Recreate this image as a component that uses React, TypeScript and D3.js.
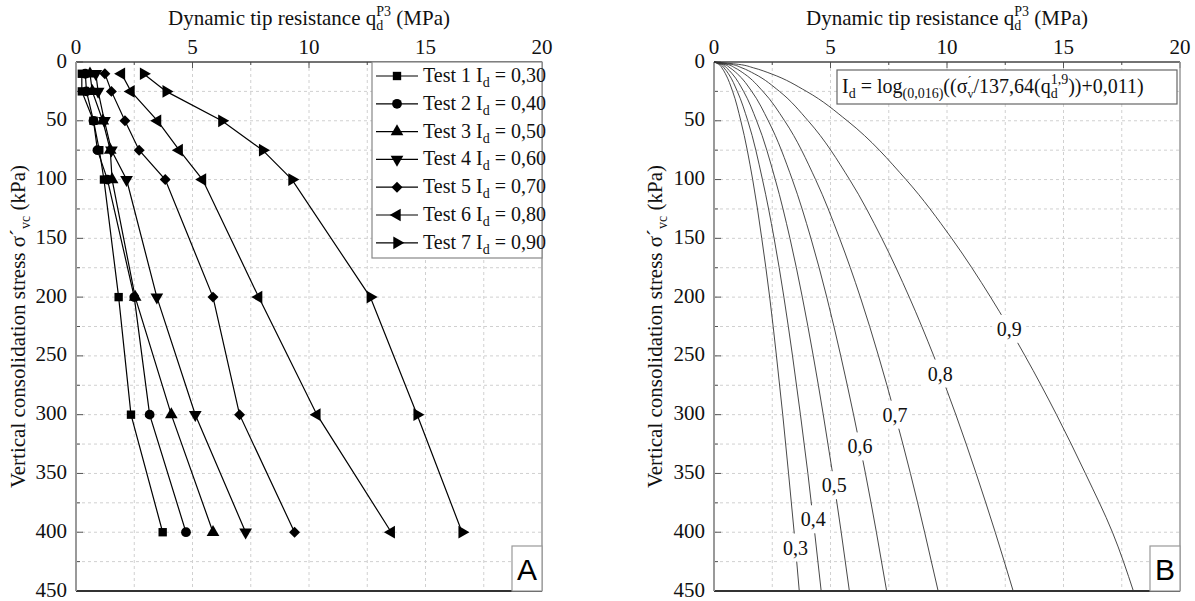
import * as d3 from 'd3'

// ---- panel A: measured profiles ----
const depths = [10, 25, 50, 75, 100, 200, 300, 400]
const test1 = [0.25, 0.25, 0.75, 1.0, 1.2, 1.83, 2.36, 3.72]
const test2 = [0.4, 0.45, 0.75, 0.92, 1.35, 2.5, 3.16, 4.72]
const test3 = [0.6, 0.7, 1.15, 1.47, 1.55, 2.54, 4.09, 5.88]
const test4 = [0.85, 0.95, 1.22, 1.52, 2.17, 3.47, 5.12, 7.28]
const test5 = [1.24, 1.52, 2.1, 2.71, 3.83, 5.88, 7.02, 9.38]
const test6 = [1.95, 2.36, 3.5, 4.43, 5.43, 7.84, 10.34, 13.53]
const test7 = [2.9, 3.87, 6.26, 8.01, 9.27, 12.63, 14.64, 16.57]
const testNames = ['Test 1', 'Test 2', 'Test 3', 'Test 4', 'Test 5', 'Test 6', 'Test 7']
const testId = ['0,30', '0,40', '0,50', '0,60', '0,70', '0,80', '0,90']

// ---- panel B: Id curves, qd ----
const curveDepths = [0, 2, 5, 10, 25, 50, 100, 150, 200, 250, 300, 350, 400, 450]
const id03 = [0, 0.21, 0.34, 0.49, 0.8, 1.15, 1.66, 2.05, 2.39, 2.68, 2.95, 3.2, 3.44, 3.66]
const id04 = [0, 0.27, 0.43, 0.62, 1.0, 1.45, 2.08, 2.58, 3.0, 3.37, 3.71, 4.03, 4.32, 4.6]
const id05 = [0, 0.34, 0.54, 0.78, 1.27, 1.83, 2.63, 3.26, 3.79, 4.26, 4.69, 5.09, 5.46, 5.81]
const id06 = [0, 0.43, 0.69, 1.0, 1.62, 2.33, 3.36, 4.16, 4.84, 5.44, 5.99, 6.5, 6.97, 7.41]
const id07 = [0, 0.56, 0.9, 1.3, 2.1, 3.03, 4.36, 5.39, 6.28, 7.06, 7.77, 8.43, 9.04, 9.62]
const id08 = [0, 0.74, 1.2, 1.73, 2.81, 4.04, 5.82, 7.2, 8.38, 9.43, 10.38, 11.25, 12.07, 12.84]
const id09 = [0, 1.05, 1.7, 2.45, 3.97, 5.72, 8.24, 10.2, 11.87, 13.35, 14.7, 15.94, 17.1, 18.0]
const curveNames = ['0,3', '0,4', '0,5', '0,6', '0,7', '0,8', '0,9']
const labelDepth = [413, 389, 360, 327, 300, 265, 227]

const xTicks = [0, 5, 10, 15, 20]
const yTicks = [0, 50, 100, 150, 200, 250, 300, 350, 400, 450]

const W = 1195
const H = 601
const PW = 466
const TOP = 62
const BOTTOM = 591
const FONT = '"Liberation Serif", "Times New Roman", serif'

const y = d3.scaleLinear().domain([0, 450]).range([TOP, BOTTOM])

function Frame({ left, letter, titleX }: { left: number; letter: string; titleX: number }) {
  const x = d3.scaleLinear().domain([0, 20]).range([left, left + PW])
  const xMinor = d3.range(2.5, 20, 5)
  const yMinor = d3.range(25, 450, 50)
  const gridX = d3.range(2.5, 20, 2.5)
  const gridY = d3.range(25, 450, 25)
  const right = left + PW
  return (
    <g>
      {gridX.map(v => (
        <line key={'gx' + v} x1={x(v)} x2={x(v)} y1={TOP} y2={BOTTOM} stroke="#d0d0d0" strokeDasharray="3,3" />
      ))}
      {gridY.map(v => (
        <line key={'gy' + v} x1={left} x2={right} y1={y(v)} y2={y(v)} stroke="#d0d0d0" strokeDasharray="3,3" />
      ))}
      {/* ticks */}
      {xTicks.map(v => (
        <line key={'tx' + v} x1={x(v)} x2={x(v)} y1={TOP} y2={TOP + 6} stroke="#555" />
      ))}
      {xMinor.map(v => (
        <line key={'mx' + v} x1={x(v)} x2={x(v)} y1={TOP} y2={TOP + 3} stroke="#555" />
      ))}
      {yTicks.map(v => (
        <line key={'ty' + v} x1={left} x2={left + 7} y1={y(v)} y2={y(v)} stroke="#555" />
      ))}
      {yMinor.map(v => (
        <line key={'my' + v} x1={left} x2={left + 4} y1={y(v)} y2={y(v)} stroke="#555" />
      ))}
      <line x1={left} x2={right} y1={TOP} y2={TOP} stroke="#444" strokeWidth={1.5} />
      <line x1={left} x2={right} y1={BOTTOM} y2={BOTTOM} stroke="#333" strokeWidth={1.8} />
      <line x1={left} x2={left} y1={TOP} y2={BOTTOM} stroke="#999" strokeWidth={2} />
      <line x1={right} x2={right} y1={TOP} y2={BOTTOM} stroke="#999" strokeWidth={1.5} />
      {xTicks.map(v => (
        <text key={'lx' + v} x={x(v)} y={54} textAnchor="middle" fontSize={21} fontFamily={FONT} fill="#111">
          {v}
        </text>
      ))}
      {yTicks.map(v => (
        <text key={'ly' + v} x={left - 9} y={y(v) + 5.5} textAnchor="end" fontSize={21} fontFamily={FONT} fill="#111">
          {v}
        </text>
      ))}
      <text x={left + PW / 2} y={25} textAnchor="middle" fontSize={21} fontFamily={FONT} fill="#111">
        Dynamic tip resistance q
        <tspan fontSize={14} dy={5}>d</tspan>
        <tspan fontSize={14} dx={-7} dy={-14}>P3</tspan>
        <tspan dy={9}> (MPa)</tspan>
      </text>
      <text
        transform={`translate(${titleX},${(TOP + BOTTOM) / 2}) rotate(-90)`}
        textAnchor="middle"
        fontSize={21}
        fontFamily={FONT}
        fill="#111"
      >
        Vertical consolidation stress σ´
        <tspan fontSize={14} dy={5}>vc</tspan>
        <tspan dy={-5}> (kPa)</tspan>
      </text>
      <rect x={right - 30} y={BOTTOM - 45} width={30} height={45} fill="#fff" stroke="#999" strokeWidth={1.2} />
      <text x={right - 15} y={BOTTOM - 11} textAnchor="middle" fontSize={30} fontFamily='"Liberation Sans", Arial, sans-serif' fill="#000">
        {letter}
      </text>
    </g>
  )
}

const symbolDefs: [d3.SymbolType, number, number][] = [
  [d3.symbolSquare, 0, 70],
  [d3.symbolCircle, 0, 75],
  [d3.symbolTriangle, 0, 70],
  [d3.symbolTriangle, 180, 70],
  [d3.symbolSquare, 45, 60],
  [d3.symbolTriangle, -90, 70],
  [d3.symbolTriangle, 90, 70],
]

function PanelA() {
  const left = 76
  const x = d3.scaleLinear().domain([0, 20]).range([left, left + PW])
  const tests = [test1, test2, test3, test4, test5, test6, test7]
  const line = d3
    .line<number>()
    .x(d => x(d))
    .y((_, i) => y(depths[i]))
  const legX = 372
  const legY = 62
  return (
    <g>
      <Frame left={left} letter="A" titleX={25} />
      {tests.map((t, k) => {
        const [type, rot, size] = symbolDefs[k]
        const path = d3.symbol().type(type).size(size)()
        return (
          <g key={k}>
            <path d={line(t) || ''} fill="none" stroke="#000" strokeWidth={1.2} />
            {t.map((v, i) => (
              <path key={i} d={path || ''} transform={`translate(${x(v)},${y(depths[i])}) rotate(${rot})`} fill="#000" />
            ))}
          </g>
        )
      })}
      <rect x={legX} y={legY} width={170} height={196} fill="#fff" stroke="#888" strokeWidth={1.2} />
      {tests.map((_, k) => {
        const [type, rot, size] = symbolDefs[k]
        const path = d3.symbol().type(type).size(size)()
        const ry = legY + 14 + k * 27.8
        return (
          <g key={'leg' + k}>
            <line x1={legX + 4} x2={legX + 46} y1={ry} y2={ry} stroke="#000" strokeWidth={1.2} />
            <path d={path || ''} transform={`translate(${legX + 25},${ry}) rotate(${rot})`} fill="#000" />
            <text x={legX + 51} y={ry + 6} fontSize={20} fontFamily={FONT} fill="#111">
              {testNames[k]} I
              <tspan fontSize={14} dy={5}>d</tspan>
              <tspan dy={-5}> = {testId[k]}</tspan>
            </text>
          </g>
        )
      })}
    </g>
  )
}

function PanelB() {
  const left = 714
  const x = d3.scaleLinear().domain([0, 20]).range([left, left + PW])
  const curves = [id03, id04, id05, id06, id07, id08, id09]
  const line = d3
    .line<number>()
    .x(d => x(d))
    .y((_, i) => y(curveDepths[i]))
    .curve(d3.curveMonotoneY)
  return (
    <g>
      <Frame left={left} letter="B" titleX={662} />
      {curves.map((c, k) => (
        <path key={k} d={line(c) || ''} fill="none" stroke="#333" strokeWidth={0.9} />
      ))}
      {curves.map((c, k) => {
        const q = d3.scaleLinear().domain(curveDepths).range(c)(labelDepth[k])
        const cx = x(q)
        const cy = y(labelDepth[k])
        return (
          <g key={'lab' + k}>
            <rect x={cx - 17} y={cy - 14} width={34} height={28} fill="#fff" />
            <text x={cx} y={cy + 7} textAnchor="middle" fontSize={20} fontFamily={FONT} fill="#111">
              {curveNames[k]}
            </text>
          </g>
        )
      })}
      <rect x={837} y={70} width={340} height={34} fill="#fff" stroke="#666" strokeWidth={1.2} />
      <text x={842} y={93} fontSize={20} fontFamily={FONT} fill="#111">
        I<tspan fontSize={14} dy={5}>d</tspan>
        <tspan dy={-5}> = log</tspan>
        <tspan fontSize={14} dy={5}>(0,016)</tspan>
        <tspan dy={-5}>((σ</tspan>
        <tspan fontSize={12} dy={-8}>´</tspan>
        <tspan fontSize={12} dx={-4} dy={13}>v</tspan>
        <tspan dy={-5}>/137,64(q</tspan>
        <tspan fontSize={14} dy={5}>d</tspan>
        <tspan fontSize={14} dx={-7} dy={-14}>1,9</tspan>
        <tspan dy={9}>))+0,011)</tspan>
      </text>
    </g>
  )
}

export default function App() {
  return (
    <svg width={W} height={H} style={{ position: 'absolute', left: 0, top: 0, background: '#fff' }}>
      <rect width={W} height={H} fill="#fff" />
      <PanelA />
      <PanelB />
    </svg>
  )
}
